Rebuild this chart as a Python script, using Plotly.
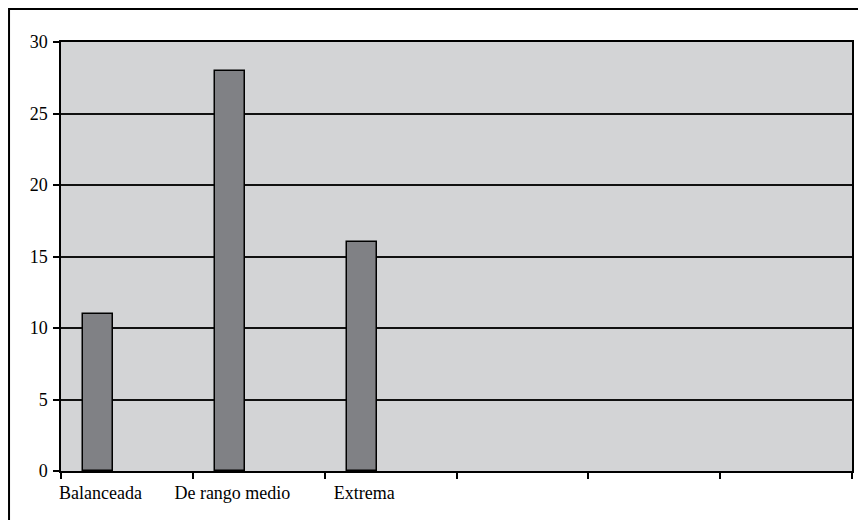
import plotly.graph_objects as go

categories = ["Balanceada", "De rango medio", "Extrema"]
values = [11, 28, 16]
n_slots = 6
y_ticks = [0, 5, 10, 15, 20, 25, 30]

cat_pos = list(range(len(categories)))
label_pos = [i + 0.3 for i in cat_pos]

fig = go.Figure()
fig.add_trace(go.Bar(
    x=[p + 0.5 for p in cat_pos], y=values,
    width=0.225, offset=-0.33,
    marker=dict(color="#808185", line=dict(color="#000000", width=1.5)),
    xaxis="x", yaxis="y", showlegend=False, hoverinfo="x+y",
))
# invisible trace to carry label axis
fig.add_trace(go.Scatter(x=label_pos, y=[0]*len(label_pos), xaxis="x2", yaxis="y",
                         mode="markers", marker=dict(opacity=0), showlegend=False, hoverinfo="skip"))

font = dict(family="Liberation Serif, Times New Roman, serif", size=18, color="#000000")

fig.update_layout(
    width=858, height=512,
    margin=dict(l=53, r=14, t=34, b=49),
    paper_bgcolor="#ffffff",
    plot_bgcolor="#d3d4d6",
    font=font,
    xaxis=dict(range=[0, n_slots], tickvals=list(range(n_slots + 1)), ticktext=[""] * (n_slots + 1),
               showgrid=False, zeroline=False, showline=True, linecolor="#000000", linewidth=1.5,
               mirror=True, ticks="outside", ticklen=6, tickcolor="#000000", tickwidth=1.5),
    xaxis2=dict(range=[0, n_slots], overlaying="x", side="bottom", tickvals=label_pos, ticktext=categories,
                showgrid=False, zeroline=False, showline=False, ticks="", tickfont=font, ticklabelstandoff=9),
    yaxis=dict(range=[0, 30], tickvals=y_ticks, showgrid=True, gridcolor="#111111", gridwidth=1.5,
               zeroline=False, showline=True, linecolor="#000000", linewidth=1.5, mirror=True,
               ticks="outside", ticklen=6, tickcolor="#000000", tickwidth=1.5, tickfont=font,
               ticklabelstandoff=2),
    shapes=[dict(type="rect", xref="paper", yref="paper", x0=-0.0657, y0=-0.25, x1=1.2, y1=1.0769,
                 line=dict(color="#000000", width=2), fillcolor="rgba(0,0,0,0)", layer="below")],
    bargap=0,
)

fig.write_html("out.html")
